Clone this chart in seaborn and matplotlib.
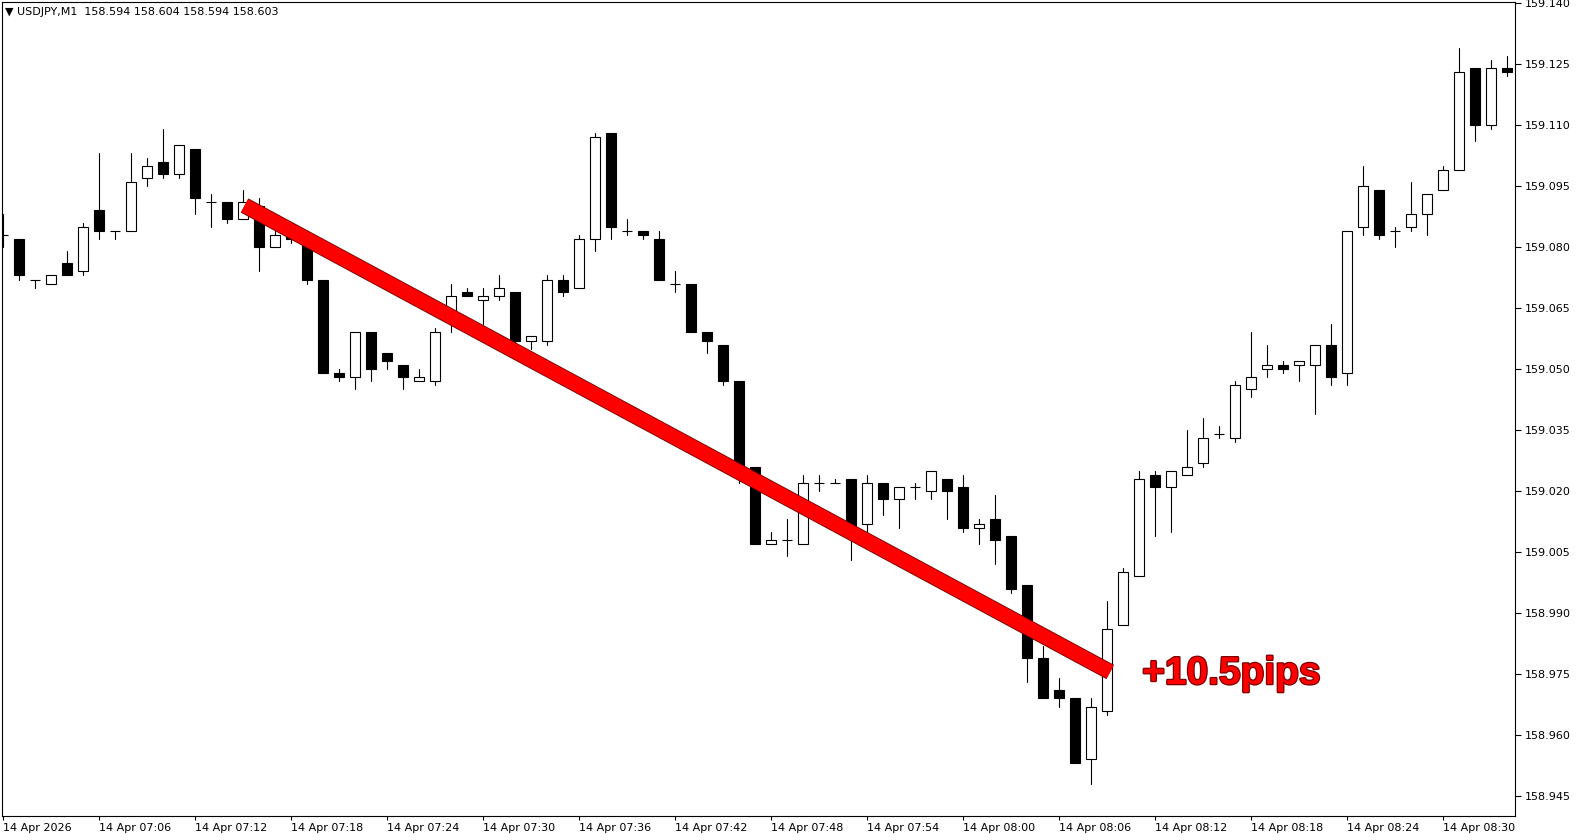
import pandas as pd
import matplotlib.pyplot as plt
import matplotlib.patheffects as pe
import seaborn as sns

# USDJPY M1 candles, 07:00 .. 08:34
opens = [159.083, 159.082, 159.072, 159.071, 159.076, 159.074, 159.089, 159.084, 159.084, 159.097,
         159.101, 159.098, 159.104, 159.091, 159.091, 159.087, 159.090, 159.080, 159.083, 159.081,
         159.072, 159.049, 159.048, 159.059, 159.054, 159.051, 159.047, 159.047, 159.062, 159.069,
         159.067, 159.068, 159.069, 159.057, 159.057, 159.072, 159.070, 159.082, 159.108, 159.084,
         159.084, 159.082, 159.071, 159.071, 159.059, 159.056, 159.047, 159.026, 159.007, 159.008,
         159.007, 159.022, 159.022, 159.023, 159.012, 159.022, 159.018, 159.021, 159.020, 159.023,
         159.021, 159.011, 159.013, 159.009, 158.997, 158.979, 158.971, 158.969, 158.954, 158.966,
         158.987, 158.999, 159.024, 159.021, 159.024, 159.027, 159.034, 159.033, 159.045, 159.050,
         159.051, 159.051, 159.051, 159.056, 159.049, 159.085, 159.094, 159.084, 159.085, 159.088,
         159.094, 159.099, 159.124, 159.110, 159.124]
highs = [159.088, 159.082, 159.072, 159.073, 159.079, 159.086, 159.103, 159.084, 159.103, 159.102,
         159.109, 159.105, 159.104, 159.093, 159.091, 159.094, 159.092, 159.084, 159.084, 159.082,
         159.072, 159.050, 159.059, 159.059, 159.054, 159.051, 159.050, 159.060, 159.071, 159.070,
         159.070, 159.073, 159.069, 159.058, 159.073, 159.073, 159.083, 159.108, 159.108, 159.087,
         159.084, 159.084, 159.074, 159.071, 159.059, 159.056, 159.047, 159.026, 159.010, 159.013,
         159.024, 159.024, 159.023, 159.023, 159.024, 159.022, 159.021, 159.022, 159.025, 159.023,
         159.024, 159.013, 159.019, 159.009, 158.997, 158.982, 158.974, 158.969, 158.969, 158.993,
         159.001, 159.025, 159.025, 159.025, 159.035, 159.038, 159.036, 159.047, 159.059, 159.056,
         159.052, 159.052, 159.056, 159.061, 159.084, 159.100, 159.094, 159.085, 159.096, 159.093,
         159.100, 159.129, 159.124, 159.126, 159.127]
lows = [159.080, 159.072, 159.070, 159.071, 159.073, 159.073, 159.082, 159.082, 159.084, 159.095,
        159.097, 159.097, 159.088, 159.085, 159.086, 159.087, 159.074, 159.080, 159.081, 159.071,
        159.049, 159.047, 159.045, 159.047, 159.050, 159.045, 159.047, 159.046, 159.059, 159.068,
        159.061, 159.067, 159.056, 159.055, 159.056, 159.068, 159.070, 159.079, 159.082, 159.083,
        159.082, 159.072, 159.069, 159.059, 159.054, 159.046, 159.022, 159.007, 159.007, 159.004,
        159.007, 159.020, 159.022, 159.003, 159.010, 159.014, 159.011, 159.018, 159.018, 159.013,
        159.010, 159.007, 159.002, 158.995, 158.973, 158.969, 158.967, 158.953, 158.948, 158.965,
        158.987, 158.999, 159.009, 159.010, 159.024, 159.026, 159.033, 159.032, 159.043, 159.048,
        159.049, 159.047, 159.039, 159.046, 159.046, 159.083, 159.082, 159.080, 159.084, 159.083,
        159.094, 159.099, 159.106, 159.109, 159.122]
closes = [159.083, 159.073, 159.072, 159.073, 159.073, 159.085, 159.084, 159.084, 159.096, 159.100,
          159.098, 159.105, 159.092, 159.091, 159.087, 159.091, 159.080, 159.083, 159.082, 159.072,
          159.049, 159.048, 159.059, 159.050, 159.052, 159.048, 159.048, 159.059, 159.068, 159.068,
          159.068, 159.070, 159.057, 159.058, 159.072, 159.069, 159.082, 159.107, 159.085, 159.084,
          159.083, 159.072, 159.071, 159.059, 159.057, 159.047, 159.026, 159.007, 159.008, 159.008,
          159.022, 159.022, 159.022, 159.011, 159.022, 159.018, 159.021, 159.021, 159.025, 159.020,
          159.011, 159.012, 159.008, 158.996, 158.979, 158.969, 158.969, 158.953, 158.967, 158.986,
          159.000, 159.023, 159.021, 159.025, 159.026, 159.033, 159.034, 159.046, 159.048, 159.051,
          159.050, 159.052, 159.056, 159.048, 159.084, 159.095, 159.083, 159.084, 159.088, 159.093,
          159.099, 159.123, 159.110, 159.124, 159.123]

time_ticks = [0, 6, 12, 18, 24, 30, 36, 42, 48, 54, 60, 66, 72, 78, 84, 90]
time_labels = ['14 Apr 2026', '14 Apr 07:06', '14 Apr 07:12', '14 Apr 07:18', '14 Apr 07:24',
               '14 Apr 07:30', '14 Apr 07:36', '14 Apr 07:42', '14 Apr 07:48', '14 Apr 07:54',
               '14 Apr 08:00', '14 Apr 08:06', '14 Apr 08:12', '14 Apr 08:18', '14 Apr 08:24',
               '14 Apr 08:30']
price_ticks = [159.140, 159.125, 159.110, 159.095, 159.080, 159.065, 159.050, 159.035,
               159.020, 159.005, 158.990, 158.975, 158.960, 158.945]
header = '\u25bc USDJPY,M1  158.594 158.604 158.594 158.603'

# hand-drawn trend line and its label
trend_t = [15.1, 69.2]
trend_p = [159.0902, 158.9755]
pips_label = '+10.5pips'
pips_t = 71.2
pips_p = 158.9750

sns.set_theme(style='white')
plt.rcParams['font.family'] = ['DejaVu Sans']

df = pd.DataFrame({'t': range(len(opens)), 'open': opens, 'high': highs,
                   'low': lows, 'close': closes})
wicks = df.melt(id_vars='t', value_vars=['low', 'high'], value_name='price')

fig = plt.figure(figsize=(15.79, 8.40), dpi=100)
ax = fig.add_axes([2 / 1579, 24 / 840, 1513 / 1579, 814 / 840])

# wicks
sns.lineplot(data=wicks, x='t', y='price', units='t', estimator=None, color='black',
             lw=0.8, legend=False, ax=ax, zorder=1)

# bodies
up = df[df['close'] > df['open']]
down = df[df['close'] < df['open']]
doji = df[df['close'] == df['open']]
w = 0.66
ax.bar(up['t'], up['close'] - up['open'], bottom=up['open'], width=w,
       color='white', edgecolor='black', lw=0.8, zorder=2)
ax.bar(down['t'], down['open'] - down['close'], bottom=down['close'], width=w,
       color='black', edgecolor='black', lw=0.8, zorder=2)
ax.hlines(doji['close'], doji['t'] - w / 2, doji['t'] + w / 2, color='black', lw=0.8, zorder=3)

# trend line
ax.plot(trend_t, trend_p, color='#ff0000', lw=10.4, solid_capstyle='butt', zorder=5,
        path_effects=[pe.Stroke(linewidth=11.6, foreground='#6e0000'), pe.Normal()])
ax.text(pips_t, pips_p, pips_label, color='#ff0000', fontsize=28, fontweight='bold',
        family=['Liberation Sans', 'DejaVu Sans'], ha='left', va='center', zorder=6,
        path_effects=[pe.withStroke(linewidth=1.8, foreground='#7a0000')])

ax.set_xlim(-0.0625, 94.5)
ax.set_ylim(158.94008, 159.14025)
ax.set_xlabel('')
ax.set_ylabel('')

ax.yaxis.tick_right()
ax.set_yticks(price_ticks)
ax.set_yticklabels([f'{p:.3f}' for p in price_ticks])
ax.set_xticks(time_ticks)
ax.set_xticklabels(time_labels, ha='left')
ax.tick_params(axis='y', direction='out', length=4, width=0.8, labelsize=8, pad=3,
               colors='black', left=False, right=True)
ax.tick_params(axis='x', direction='out', length=3, width=0.8, labelsize=8, pad=2,
               colors='black', bottom=True)
for s in ax.spines.values():
    s.set_color('black')
    s.set_linewidth(0.8)

fig.text(5 / 1579, 1 - 12 / 840, header, ha='left', va='center', fontsize=8, color='black')

fig.savefig('out.png', dpi=100)
